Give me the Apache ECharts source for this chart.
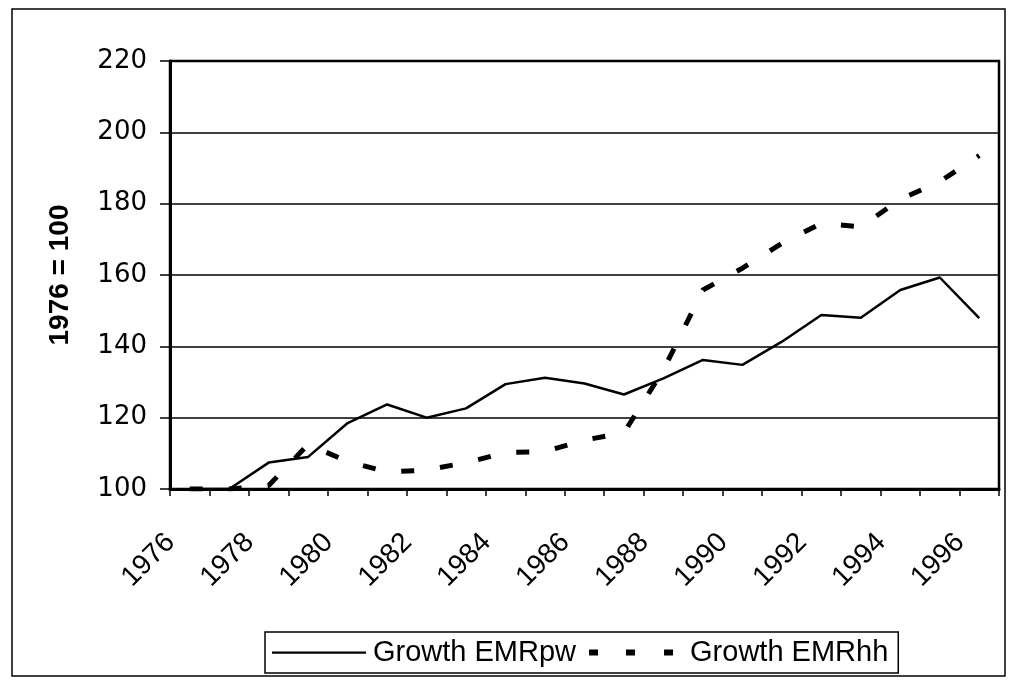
<!DOCTYPE html>
<html>
<head>
<meta charset="utf-8">
<script src="https://cdn.jsdelivr.net/npm/echarts@6/dist/echarts.min.js"></script>
<style>
html,body{margin:0;padding:0;background:#fff;}
#chart{width:1015px;height:681px;}
</style>
</head>
<body>
<div id="chart"></div>
<script>
const years = ['1976','1977','1978','1979','1980','1981','1982','1983','1984','1985','1986','1987','1988','1989','1990','1991','1992','1993','1994','1995','1996'];
const growthEMRpw = [100,100,107.4,109,118.5,123.7,120,122.6,129.4,131.2,129.6,126.5,131,136.2,134.8,141.3,148.8,148,155.8,159.3,147.9];
const growthEMRhh = [100,100,101,112.5,107.7,104.8,105.3,107.4,110.2,110.5,113.7,115.8,133.4,155.8,161.9,168.9,174.5,173.5,181.2,186.2,193.5];
const yTitle = '1976 = 100';
const seriesNames = ['Growth EMRpw','Growth EMRhh'];

const FONT = 'Liberation Sans, Arial, sans-serif';
const solidIcon = 'path://M0,0h0.1v0.1h-0.1z M0,6h94v2.2h-94z M95.9,13.9h0.1v0.1h-0.1z';
const dashIcon = 'path://M0,0h0.1v0.1h-0.1z M0,4h9v6h-9z M37,4h9v6h-9z M75,4h9v6h-9z M95.9,13.9h0.1v0.1h-0.1z';

const chart = echarts.init(document.getElementById('chart'));
chart.setOption({
  animation: false,
  backgroundColor: '#fff',
  textStyle: {fontFamily: FONT},
  graphic: [{
    type: 'rect',
    shape: {x: 12, y: 9, width: 993, height: 667},
    style: {fill: 'none', stroke: '#000', lineWidth: 1.5},
    silent: true, z: -1
  }],
  grid: {left: 170, right: 16, top: 61, bottom: 192, show: true, borderColor: '#000', borderWidth: 2.5},
  legend: {
    data: [
      {name: seriesNames[0], icon: solidIcon},
      {name: seriesNames[1], icon: dashIcon}
    ],
    left: 265, top: 632,
    itemWidth: 96, itemHeight: 14, itemGap: 13,
    padding: [6, 10, 6, 7],
    borderColor: '#000', borderWidth: 1.5, borderRadius: 0,
    itemStyle: {color: '#000', borderWidth: 0},
    textStyle: {fontSize: 29, color: '#000', fontFamily: FONT}
  },
  xAxis: {
    type: 'category',
    data: years,
    boundaryGap: true,
    axisLine: {lineStyle: {color: '#000', width: 3}},
    axisTick: {show: true, interval: 0, length: 7, lineStyle: {color: '#000', width: 1.5}},
    axisLabel: {interval: 1, rotate: 45, fontSize: 28, color: '#000', margin: 30, padding: [0, 27, 0, 0], fontFamily: FONT},
    splitLine: {show: false}
  },
  yAxis: {
    type: 'value',
    min: 100, max: 220, interval: 20,
    name: yTitle,
    nameLocation: 'middle',
    nameGap: 96,
    nameRotate: 90,
    nameTextStyle: {fontSize: 28, fontWeight: 'bold', color: '#000', fontFamily: FONT},
    axisLine: {show: true, lineStyle: {color: '#000', width: 3}},
    axisTick: {show: true, length: 10, lineStyle: {color: '#000', width: 1.5}},
    axisLabel: {fontSize: 26, color: '#000', margin: 23, fontFamily: 'DejaVu Sans, sans-serif'},
    splitLine: {show: true, lineStyle: {color: '#000', width: 1.5}}
  },
  series: [
    {
      name: seriesNames[0], type: 'line', data: growthEMRpw,
      showSymbol: false, symbol: 'none',
      lineStyle: {color: '#000', width: 2.5, type: 'solid'},
      itemStyle: {color: '#000'}
    },
    {
      name: seriesNames[1], type: 'line', data: growthEMRhh,
      showSymbol: false, symbol: 'none',
      lineStyle: {color: '#000', width: 5, type: [13, 26]},
      itemStyle: {color: '#000'}
    }
  ]
});
</script>
</body>
</html>
